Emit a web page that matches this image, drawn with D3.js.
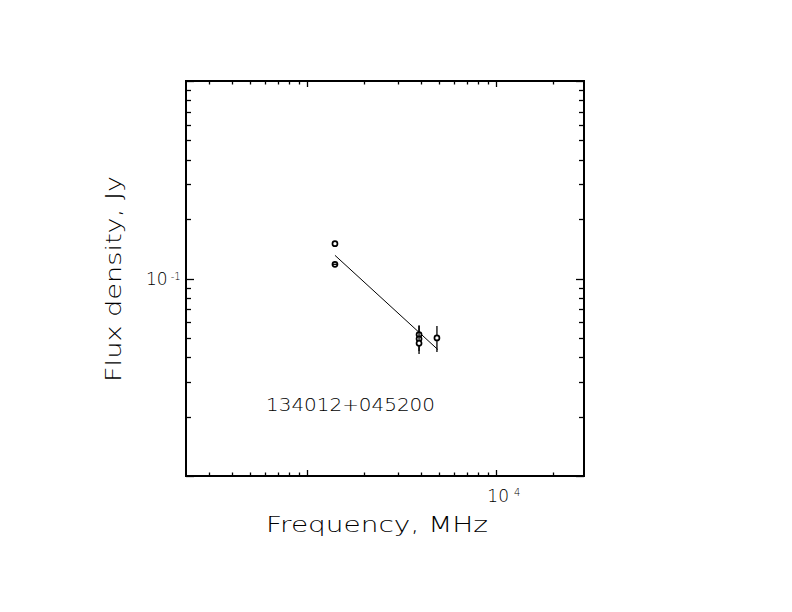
<!DOCTYPE html>
<html><head><meta charset="utf-8">
<script src="https://cdn.jsdelivr.net/npm/d3@7"></script>
<style>body{margin:0;background:#fff}svg{display:block}text{font-family:"DejaVu Sans",sans-serif;fill:#000}</style>
</head><body><svg id="c" width="792" height="612"></svg>
<script>
// Data
const freqMHz   = [1400, 1400, 3900, 3900, 3900, 4850];
const fluxJy    = [0.150, 0.118, 0.052, 0.0495, 0.047, 0.050];
const fluxErr   = [0, 0, 0.006, 0.008, 0.004, 0.0075];
const markers   = ["o", "theta", "o", "o", "o", "o"];
const fitFreq   = [1400, 4900];
const fitFlux   = [0.131, 0.0437];
const xDomain   = [228, 29100];
const yDomain   = [0.01, 1];
const sourceName = "134012+045200";
const xLabel = "Frequency, MHz";
const yLabel = "Flux density, Jy";

const svg = d3.select("#c");
const L = 186, R = 584, T = 81, B = 476;
const x = d3.scaleLog().domain(xDomain).range([L, R]);
const y = d3.scaleLog().domain(yDomain).range([B, T]);

function logTicks(dom) {
  const out = [];
  const lo = Math.floor(Math.log10(dom[0])), hi = Math.ceil(Math.log10(dom[1]));
  for (let e = lo; e <= hi; e++) for (let k = 1; k <= 9; k++) {
    const v = k * Math.pow(10, e);
    if (v >= dom[0] * 0.999 && v <= dom[1] * 1.001) out.push({v, major: k === 1});
  }
  return out;
}
const xt = logTicks(xDomain), yt = logTicks(yDomain);
const g = svg.append("g").attr("stroke", "#000").attr("stroke-width", 1.3);
xt.forEach(t => {
  const px = Math.round(x(t.v)) + 0.5, len = t.major ? 6 : 3.5;
  g.append("line").attr("x1", px).attr("x2", px).attr("y1", B).attr("y2", B - len);
  g.append("line").attr("x1", px).attr("x2", px).attr("y1", T).attr("y2", T + len);
});
yt.forEach(t => {
  const py = Math.round(y(t.v)) + 0.5, len = t.major ? 8 : 5;
  g.append("line").attr("x1", L).attr("x2", L + len).attr("y1", py).attr("y2", py);
  g.append("line").attr("x1", R).attr("x2", R - len).attr("y1", py).attr("y2", py);
});
svg.append("rect").attr("x", L).attr("y", T).attr("width", R - L).attr("height", B - T)
  .attr("fill", "none").attr("stroke", "#000").attr("stroke-width", 2);

// tick labels
const xl = svg.append("text").attr("x", x(1e4) - 9).attr("y", 502).attr("font-size", 17).attr("font-weight", 200);
xl.append("tspan").text("10");
xl.append("tspan").attr("dx", 5).attr("dy", -6).attr("font-size", 10).text("4");
const yl = svg.append("text").attr("x", 146).attr("y", y(0.1) + 6).attr("font-size", 17).attr("font-weight", 200);
yl.append("tspan").text("10");
yl.append("tspan").attr("dx", 3).attr("dy", -5).attr("font-size", 10).text("-1");

// axis titles
svg.append("text").attr("x", 266).attr("y", 532).attr("font-size", 21).attr("font-weight", 200)
  .attr("textLength", 222).attr("lengthAdjust", "spacingAndGlyphs").text(xLabel);
svg.append("text").attr("transform", "translate(121,382) rotate(-90)").attr("font-size", 21).attr("font-weight", 200)
  .attr("textLength", 206).attr("lengthAdjust", "spacingAndGlyphs").text(yLabel);
svg.append("text").attr("x", 266).attr("y", 411).attr("font-size", 18).attr("font-weight", 200)
  .attr("textLength", 169).attr("lengthAdjust", "spacingAndGlyphs").text(sourceName);

// fit line
svg.append("line").attr("x1", x(fitFreq[0])).attr("y1", y(fitFlux[0]))
  .attr("x2", x(fitFreq[1])).attr("y2", y(fitFlux[1])).attr("stroke", "#000").attr("stroke-width", 1);

// points
const pts = freqMHz.map((f, i) => ({f, s: fluxJy[i], e: fluxErr[i], m: markers[i]}));
const pg = svg.append("g").attr("stroke", "#000").attr("fill", "none");
pts.forEach(p => {
  const cx = x(p.f), cy = y(p.s);
  if (p.e > 0) pg.append("line").attr("x1", cx).attr("x2", cx).attr("y1", y(p.s + p.e)).attr("y2", y(p.s - p.e)).attr("stroke-width", 1.3);
  pg.append("circle").attr("cx", cx).attr("cy", cy).attr("r", 2.5).attr("stroke-width", 1.7).attr("fill", "#fff");
  if (p.m === "theta") pg.append("line").attr("x1", cx - 2.5).attr("x2", cx + 2.5).attr("y1", cy).attr("y2", cy).attr("stroke-width", 1.3);
});
</script></body></html>
